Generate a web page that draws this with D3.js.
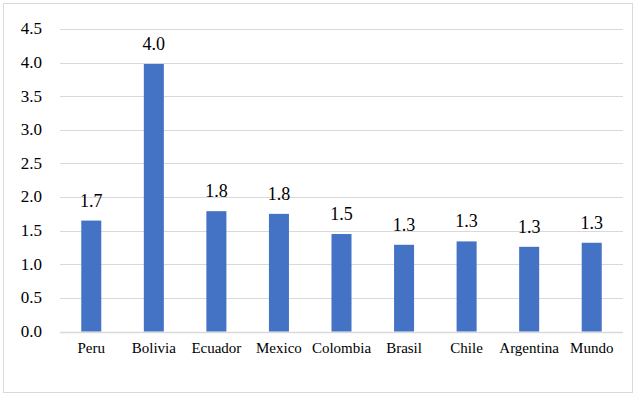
<!DOCTYPE html>
<html>
<head>
<meta charset="utf-8">
<script src="https://cdn.jsdelivr.net/npm/d3@7"></script>
</head>
<body style="margin:0">
<script>
// data
const countries = ["Peru", "Bolivia", "Ecuador", "Mexico", "Colombia", "Brasil", "Chile", "Argentina", "Mundo"];
const values = [1.65, 3.98, 1.79, 1.75, 1.45, 1.29, 1.34, 1.26, 1.32];
const valueLabels = ["1.7", "4.0", "1.8", "1.8", "1.5", "1.3", "1.3", "1.3", "1.3"];
const yTicks = [0, 0.5, 1, 1.5, 2, 2.5, 3, 3.5, 4, 4.5];

let dimensions = {
    width: 636,
    height: 395,
    margin: { top: 29, right: 13, bottom: 63.5, left: 60 }
};
dimensions.boundedWidth = dimensions.width - dimensions.margin.left - dimensions.margin.right;
dimensions.boundedHeight = dimensions.height - dimensions.margin.top - dimensions.margin.bottom;

const root = d3.select("body")
    .append("svg")
    .attr("width", dimensions.width)
    .attr("height", dimensions.height);

// outer border
root.append("rect")
    .attr("x", 3.5).attr("y", 3.5)
    .attr("width", 629).attr("height", 389)
    .attr("fill", "#fff")
    .attr("stroke", "#d9d9d9");

const svg = root.append("g")
    .attr("transform", `translate(${dimensions.margin.left}, ${dimensions.margin.top})`);

const xScale = d3.scaleBand()
    .domain(countries)
    .range([0, dimensions.boundedWidth])
    .paddingInner(0.68)
    .paddingOuter(0.34);

const yScale = d3.scaleLinear()
    .domain([0, 4.5])
    .range([dimensions.boundedHeight, 0]);

// gridlines
svg.append("g")
    .selectAll("line")
    .data(yTicks)
    .join("line")
    .attr("x1", 0)
    .attr("x2", dimensions.boundedWidth)
    .attr("y1", d => Math.round(yScale(d)) + 0.5)
    .attr("y2", d => Math.round(yScale(d)) + 0.5)
    .attr("stroke", "#d9d9d9")
    .attr("stroke-width", d => d === 0 ? 1.5 : 1);

// y tick labels (plain text, placed with the scale)
svg.selectAll("text.ytick")
    .data(yTicks)
    .join("text")
    .attr("class", "ytick")
    .attr("x", -18)
    .attr("y", d => yScale(d))
    .attr("dy", "0.32em")
    .attr("text-anchor", "end")
    .style("font-family", "'Liberation Serif'")
    .attr("font-size", 17)
    .attr("fill", "#000")
    .text(d => d3.format(".1f")(d));

// bars
svg.selectAll("rect.bar")
    .data(values)
    .join("rect")
    .attr("class", "bar")
    .attr("x", (d, i) => xScale(countries[i]))
    .attr("y", d => yScale(d))
    .attr("width", xScale.bandwidth())
    .attr("height", d => dimensions.boundedHeight - yScale(d))
    .attr("fill", "#4472c4");

// value labels
svg.selectAll("text.value")
    .data(values)
    .join("text")
    .attr("class", "value")
    .attr("x", (d, i) => xScale(countries[i]) + xScale.bandwidth() / 2)
    .attr("y", d => yScale(d) - 14)
    .attr("text-anchor", "middle")
    .style("font-family", "'Liberation Serif'")
    .attr("font-size", 18)
    .attr("fill", "#000")
    .text((d, i) => valueLabels[i]);

// category labels
svg.selectAll("text.cat")
    .data(countries)
    .join("text")
    .attr("class", "cat")
    .attr("x", d => xScale(d) + xScale.bandwidth() / 2)
    .attr("y", dimensions.boundedHeight + 21)
    .attr("text-anchor", "middle")
    .style("font-family", "'Liberation Serif'")
    .attr("font-size", 15)
    .attr("fill", "#000")
    .text(d => d);
</script>
</body>
</html>
